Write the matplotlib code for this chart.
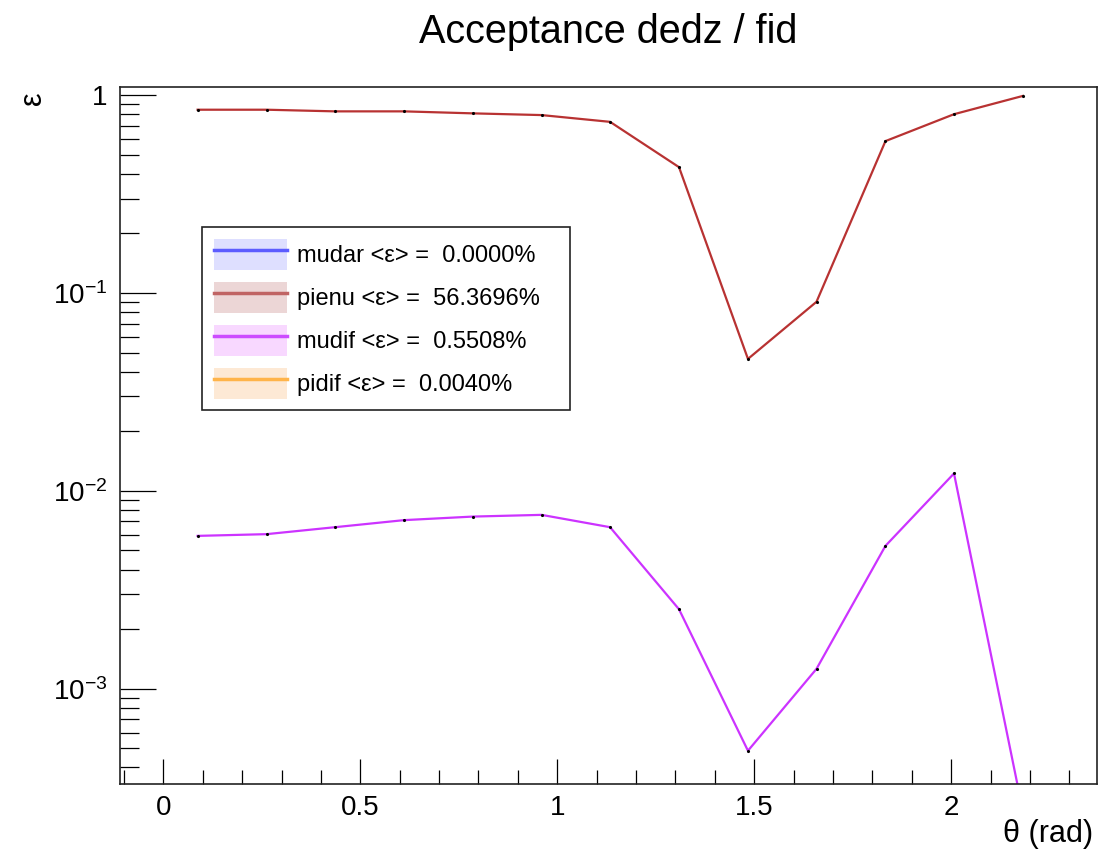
import numpy as np
import matplotlib
matplotlib.use("Agg")
import matplotlib.pyplot as plt
from matplotlib.ticker import MultipleLocator, LogLocator, FuncFormatter, NullFormatter
from matplotlib.patches import Patch
from matplotlib.lines import Line2D
from matplotlib.legend_handler import HandlerTuple

plt.rcParams['font.family'] = ['Liberation Sans', 'DejaVu Sans']
plt.rcParams['mathtext.fontset'] = 'custom'
plt.rcParams['mathtext.rm'] = 'Liberation Sans'
plt.rcParams['mathtext.it'] = 'Liberation Sans:italic'

# bin centres in theta (rad)
theta = [0.087, 0.262, 0.436, 0.611, 0.785, 0.960, 1.134, 1.309, 1.484, 1.658, 1.833, 2.007, 2.182]

# acceptance per sample
mudar = [0, 0, 0, 0, 0, 0, 0, 0, 0, 0, 0, 0, 0]
pienu = [0.843, 0.843, 0.827, 0.827, 0.808, 0.792, 0.732, 0.432, 0.0464, 0.0902, 0.585, 0.80, 0.99]
mudif = [0.00592, 0.00604, 0.00655, 0.00711, 0.00741, 0.00756, 0.00655, 0.00252, 0.000486, 0.00126, 0.00527, 0.01224, 0.00024]
pidif = [0, 0, 0, 0, 0, 0, 0, 0, 0, 0, 0, 0, 0]

names = ["mudar", "pienu", "mudif", "pidif"]
mean_eff = [0.0000, 56.3696, 0.5508, 0.0040]
line_colors = ["#3a3aff", "#b83232", "#cc33ff", "#ffa530"]
leg_line_colors = ["#5c5cff", "#c06464", "#cc4cff", "#ffb44a"]
leg_fill_colors = ["#dedfff", "#ecd6d6", "#f8d8ff", "#fde9d5"]

fig = plt.figure(figsize=(11.1, 8.52), dpi=100)
ax = fig.add_axes([120 / 1110, 1 - 784 / 852, 977 / 1110, 697 / 852])
ax.set_yscale('log', nonpositive='mask')

for vals, col in zip([mudar, pienu, mudif, pidif], line_colors):
    ax.plot(theta, vals, color=col, lw=1.6, zorder=2)
    ax.plot(theta, vals, ls='none', marker='.', ms=2.5, color='black', zorder=3)

ax.set_xlim(-0.11, 2.37)
ax.set_ylim(3.3e-4, 1.098)

ax.xaxis.set_major_locator(MultipleLocator(0.5))
ax.xaxis.set_minor_locator(MultipleLocator(0.1))
ax.xaxis.set_major_formatter(FuncFormatter(lambda v, p: f"{v:g}"))
ax.yaxis.set_major_locator(LogLocator(base=10, numticks=10))
ax.yaxis.set_minor_locator(LogLocator(base=10, subs=np.arange(2, 10), numticks=20))
ax.yaxis.set_minor_formatter(NullFormatter())


def log_fmt(v, pos):
    e = int(round(np.log10(v)))
    if e == 0:
        return "1"
    return r"$\mathregular{10^{%d}}$" % e


ax.yaxis.set_major_formatter(FuncFormatter(log_fmt))

ax.tick_params(axis='both', which='both', direction='in', top=False, right=False,
               width=0.9, labelsize=20)
ax.tick_params(axis='y', which='major', length=26, pad=9)
ax.tick_params(axis='y', which='minor', length=13.5)
ax.tick_params(axis='x', which='major', length=18, pad=8)
ax.tick_params(axis='x', which='minor', length=10)
for sp in ax.spines.values():
    sp.set_linewidth(1.2)
    sp.set_color('#222222')

fig.text(608 / 1110, 1 - 32 / 852, "Acceptance dedz / fid", ha='center', va='center', fontsize=28.5)
fig.text(1093 / 1110, 1 - 834 / 852, "θ (rad)", ha='right', va='center', fontsize=22)
fig.text(33 / 1110, 1 - 98 / 852, "ε", ha='center', va='center', rotation=90, fontsize=22)

handles = []
labels = []
for n, m, lc, fc in zip(names, mean_eff, leg_line_colors, leg_fill_colors):
    handles.append((Patch(facecolor=fc, edgecolor='none'), Line2D([], [], color=lc, lw=2.5)))
    labels.append(f"{n} <ε> =  {m:.4f}%")

leg = ax.legend(handles, labels, handler_map={tuple: HandlerTuple(ndivide=1)},
                loc='upper left', bbox_to_anchor=(202 / 1110, 1 - 409 / 852, 368 / 1110, 182 / 852),
                bbox_transform=fig.transFigure, mode='expand', borderaxespad=0,
                fontsize=17, handlelength=3.1, handleheight=1.65, handletextpad=0.42,
                labelspacing=0.5, borderpad=0.5, fancybox=False, framealpha=1)
leg.get_frame().set_edgecolor('#222222')
leg.get_frame().set_linewidth(1.2)

fig.savefig("out.png", dpi=100)
